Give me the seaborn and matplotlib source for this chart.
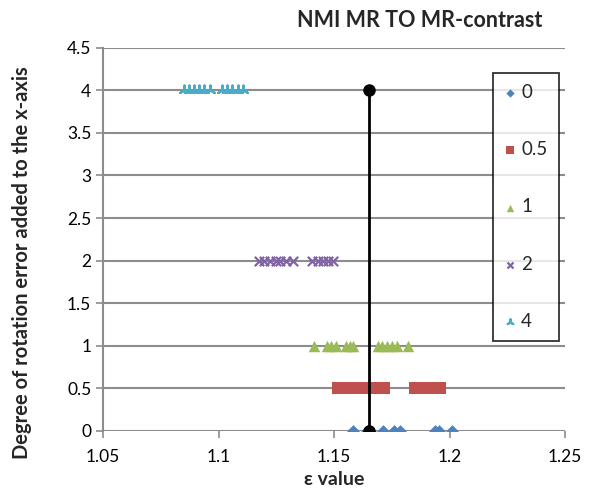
import numpy as np
import pandas as pd
import seaborn as sns
import matplotlib.pyplot as plt

# epsilon values, one list per rotation error level
eps_0 = [1.158, 1.1643, 1.1656, 1.1712, 1.176, 1.1786, 1.1937, 1.1955, 1.2011]
eps_05 = [1.1515, 1.154, 1.1565, 1.159, 1.161, 1.163, 1.165, 1.167, 1.169, 1.1715,
          1.185, 1.188, 1.190, 1.1925, 1.196]
eps_1 = [1.1413, 1.147, 1.1487, 1.1509, 1.1552, 1.1569, 1.1582,
         1.169, 1.1708, 1.1729, 1.1751, 1.1773, 1.182]
eps_2 = [1.1175, 1.1197, 1.1223, 1.1249, 1.1266, 1.1292, 1.1323,
         1.1405, 1.1431, 1.1452, 1.1474, 1.1496]
eps_4 = [1.0851, 1.0872, 1.0894, 1.0916, 1.0937, 1.0963,
         1.1015, 1.1037, 1.1058, 1.1084, 1.1106]

levels = [0, 0.5, 1, 2, 4]
labels = ["0", "0.5", "1", "2", "4"]
series = [eps_0, eps_05, eps_1, eps_2, eps_4]

ref_x = [1.165, 1.165]
ref_y = [0, 4]

colors = ["#4F81BD", "#C0504D", "#9BBB59", "#8064A2", "#4BACC6"]
markers = ["D", "s", "^", "x", (3, 2, 0)]
sizes = [42, 80, 68, 45, 50]

sns.set_style("white")
plt.rcParams['font.family'] = ['Lato', 'DejaVu Sans']

fig = plt.figure(figsize=(5.96, 4.97), dpi=100)
ax = fig.add_axes([0.173, 0.133, 0.775, 0.771])

for lev, lab, vals, c, m, s in zip(levels, labels, series, colors, markers, sizes):
    df = pd.DataFrame({"eps": vals, "rot": [lev] * len(vals)})
    filled = m in ("D", "s", "^")
    kw = dict(linewidth=0) if filled else dict(linewidth=1.6)
    sns.scatterplot(data=df, x="eps", y="rot", ax=ax, color=c, marker=m, s=s,
                    label=lab, zorder=3, **kw)

ax.plot(ref_x, ref_y, color="black", linewidth=2, marker="o", markersize=8,
        zorder=4)

ax.set_xlim(1.05, 1.25)
ax.set_ylim(0, 4.5)
ax.set_xticks(np.arange(1.05, 1.2501, 0.05))
ax.set_xticklabels(["1.05", "1.1", "1.15", "1.2", "1.25"])
ax.set_yticks(np.arange(0, 4.51, 0.5))
ax.set_yticklabels(["0", "0.5", "1", "1.5", "2", "2.5", "3", "3.5", "4", "4.5"])
ax.yaxis.grid(True, color="#8c8c8c", linewidth=1.5)
ax.xaxis.grid(False)
ax.set_axisbelow(True)
for sp in ["top", "right", "bottom"]:
    ax.spines[sp].set_visible(False)
ax.spines["left"].set_color("#8c8c8c")
ax.spines["left"].set_linewidth(1.5)
ax.tick_params(axis="both", labelsize=12.5, colors="black", length=5,
               width=1.2, color="#8c8c8c", direction="out", left=True, bottom=True)
ax.tick_params(axis="x", pad=8)

ax.set_xlabel("ε value", fontsize=14, fontweight="bold")
ax.xaxis.set_label_coords(0.5, -0.105)
ax.set_ylabel("Degree of rotation error added to the x-axis", fontsize=14.5,
              fontweight="bold")
ax.yaxis.set_label_coords(-0.155, 0.44)
fig.text(0.705, 0.958, "NMI MR TO MR-contrast", fontsize=15.5, fontweight="bold",
         ha="center", va="center")

leg = ax.legend(loc="upper left", bbox_to_anchor=(0.844, 0.935), fontsize=13.5,
                frameon=True, fancybox=False, edgecolor="black", labelspacing=2.15,
                handletextpad=0.3, handlelength=0.6, borderpad=0.6,
                borderaxespad=0, markerscale=0.65)
leg.get_frame().set_linewidth(1.3)

fig.savefig("out.png", dpi=100)
